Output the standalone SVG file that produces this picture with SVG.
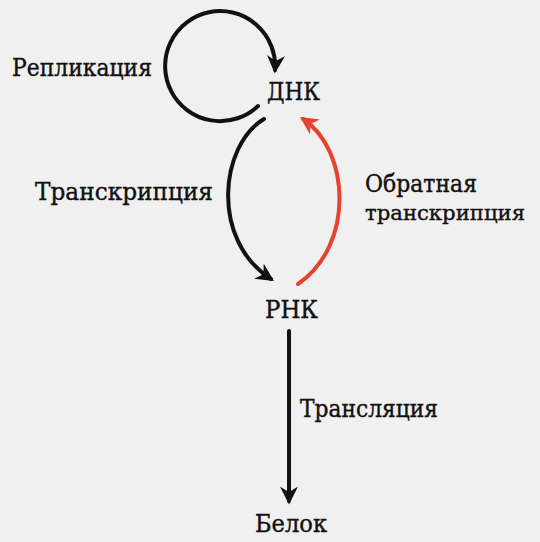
<svg xmlns="http://www.w3.org/2000/svg" width="540" height="542" viewBox="0 0 540 542">
<style>
text{font-family:"DejaVu Serif","Liberation Serif",serif;fill:#111;font-size:24px;stroke:#111;stroke-width:0.4}
text.s{font-size:21px}
.c{fill:none;stroke:#111;stroke-width:4;stroke-linecap:round}
.r{fill:none;stroke:#e5432d;stroke-width:4;stroke-linecap:round}
</style>
<defs>
<marker id="ab" viewBox="0 0 10 10" refX="8" refY="5" markerWidth="4.5" markerHeight="4.5" orient="auto" markerUnits="strokeWidth"><path d="M0,0L10,5L0,10L3,5Z" fill="#111"/></marker>
<marker id="ar" viewBox="0 0 10 10" refX="8" refY="5" markerWidth="4.5" markerHeight="4.5" orient="auto" markerUnits="strokeWidth"><path d="M0,0L10,5L0,10L3,5Z" fill="#e5432d"/></marker>
</defs>
<rect width="540" height="542" fill="#f0f0f0"/>
<g id="connectors">
<path class="c" d="M258,106 A55,55 0 1 1 275,70" marker-end="url(#ab)"/>
<path class="c" d="M264,119 C220,145 210,240 271,279" marker-end="url(#ab)"/>
<path class="r" d="M298,284 C355,245 350,150 303,119" marker-end="url(#ar)"/>
<path class="c" d="M289,331 L289,501" marker-end="url(#ab)"/>
</g>
<g id="label-replication"><text x="12" y="76" textLength="140" lengthAdjust="spacingAndGlyphs">Репликация</text></g>
<g id="node-dna"><text x="267" y="100" textLength="53" lengthAdjust="spacingAndGlyphs">ДНК</text></g>
<g id="label-transcription"><text x="35" y="200" textLength="178" lengthAdjust="spacingAndGlyphs">Транскрипция</text></g>
<g id="label-reverse"><text x="365" y="192" textLength="112" lengthAdjust="spacingAndGlyphs">Обратная</text><text class="s" x="365" y="220" textLength="160" lengthAdjust="spacingAndGlyphs">транскрипция</text></g>
<g id="node-rna"><text x="265" y="318" textLength="53" lengthAdjust="spacingAndGlyphs">РНК</text></g>
<g id="label-translation"><text x="300" y="417" textLength="138" lengthAdjust="spacingAndGlyphs">Трансляция</text></g>
<g id="node-protein"><text x="255" y="532" textLength="72" lengthAdjust="spacingAndGlyphs">Белок</text></g>
</svg>
